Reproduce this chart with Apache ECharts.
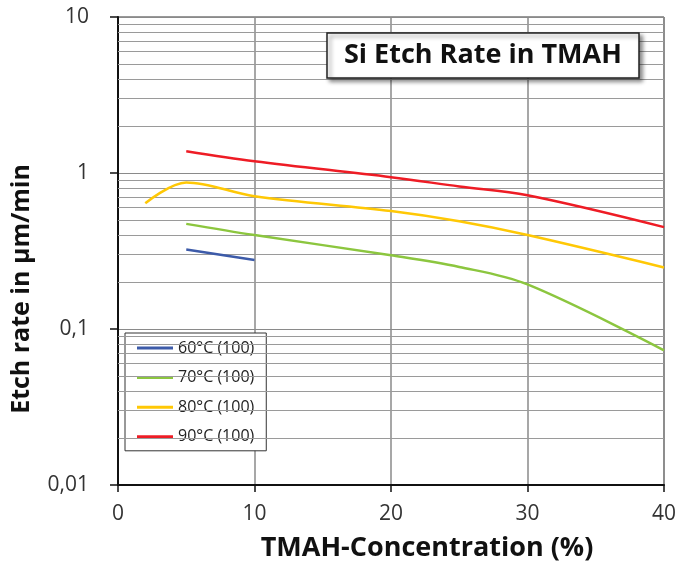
<!DOCTYPE html>
<html><head><meta charset="utf-8">
<script src="https://cdn.jsdelivr.net/npm/echarts@6/dist/echarts.min.js"></script>
<style>html,body{margin:0;padding:0;background:#fff}#c{width:679px;height:567px}</style>
</head><body><div id="c"></div>
<script>
var seriesNames = ['60°C (100)', '70°C (100)', '80°C (100)', '90°C (100)'];
var colors = ['#3d5ba9', '#8cc63f', '#ffc805', '#ee1c25'];
var conc60 = [5, 10];
var rate60 = [0.323, 0.277];
var conc70 = [5, 10, 20, 25, 30, 40];
var rate70 = [0.472, 0.40, 0.297, 0.25, 0.193, 0.073];
var conc80 = [2, 5, 10, 20, 25, 30, 40];
var rate80 = [0.64, 0.87, 0.71, 0.57, 0.49, 0.40, 0.248];
var conc90 = [5, 10, 20, 25, 30, 40];
var rate90 = [1.38, 1.19, 0.94, 0.82, 0.72, 0.45];
var yTickLabels = {'0.01': '0,01', '0.1': '0,1', '1': '1', '10': '10'};
var xTicks = [0, 10, 20, 30, 40];
var decades = [0.01, 0.1, 1];

var minorLines = [];
decades.forEach(function (d) {
  for (var m = 2; m <= 9; m++) minorLines.push({ yAxis: +(d * m).toPrecision(3) });
});

function pairs(xs, ys) { return xs.map(function (x, i) { return [x, ys[i]]; }); }
var allConc = [conc60, conc70, conc80, conc90];
var allRate = [rate60, rate70, rate80, rate90];
var font = '"Open Sans", "DejaVu Sans", sans-serif';

var series = seriesNames.map(function (n, i) {
  return {
    name: n, type: 'line', data: pairs(allConc[i], allRate[i]),
    smooth: 0.35, symbol: 'none', z: 5,
    lineStyle: { color: colors[i], width: 2.5 },
    itemStyle: { color: colors[i] }
  };
});
series.unshift({
  name: 'grid', type: 'line', data: [], silent: true, z: 1,
  markLine: {
    silent: true, symbol: 'none', label: { show: false },
    lineStyle: { color: '#9a9a9a', width: 1, type: 'solid' },
    data: minorLines, animation: false
  }
});

var chart = echarts.init(document.getElementById('c'));
chart.setOption({
  animation: false,
  backgroundColor: '#fff',
  title: {
    text: 'Si Etch Rate in TMAH', left: 327, top: 33,
    padding: [9, 17, 9, 17],
    backgroundColor: '#fff', borderColor: '#222', borderWidth: 1.5,
    shadowBlur: 4, shadowColor: 'rgba(0,0,0,0.45)', shadowOffsetX: 3, shadowOffsetY: 3,
    textStyle: { fontFamily: font, fontWeight: 'bold', fontSize: 27, lineHeight: 27, color: '#111' }
  },
  legend: {
    data: seriesNames.map(function (n) { return { name: n, icon: 'rect' }; }),
    orient: 'vertical', left: 125, top: 333,
    padding: [7, 12, 6, 12], itemWidth: 36, itemHeight: 3, itemGap: 13.6,
    backgroundColor: '#fff', borderColor: '#333', borderWidth: 1,
    textStyle: { fontFamily: font, fontSize: 16, lineHeight: 16, color: '#222' }
  },
  grid: { left: 118, right: 15, top: 17, bottom: 80, show: true, borderColor: '#333', borderWidth: 1, backgroundColor: 'transparent' },
  xAxis: {
    type: 'value', min: 0, max: 40, interval: 10,
    name: 'TMAH-Concentration (%)', nameLocation: 'middle', nameGap: 50,
    nameTextStyle: { fontFamily: font, fontWeight: 'bold', fontSize: 27, color: '#111', padding: [0, 0, 0, 72] },
    axisLine: { lineStyle: { color: '#111', width: 2 } },
    axisTick: { show: true, length: 7, lineStyle: { color: '#111', width: 1.5 } },
    axisLabel: { fontFamily: font, fontSize: 21, color: '#333', margin: 19 },
    splitLine: { show: true, lineStyle: { color: '#8a8a8a', width: 1.5 } }
  },
  yAxis: {
    type: 'log', logBase: 10, min: 0.01, max: 10,
    name: 'Etch rate in µm/min', nameLocation: 'middle', nameGap: 84, nameRotate: 90,
    nameTextStyle: { fontFamily: font, fontWeight: 'bold', fontSize: 25, color: '#111', padding: [0, 76, 0, 0] },
    axisLine: { lineStyle: { color: '#111', width: 2 } },
    axisTick: { show: true, length: 8, lineStyle: { color: '#111', width: 1.5 } },
    axisLabel: {
      fontFamily: font, fontSize: 21, color: '#333', margin: 29,
      formatter: function (v) { var k = String(+v.toPrecision(3)); return yTickLabels[k] !== undefined ? yTickLabels[k] : k; }
    },
    splitLine: { show: true, lineStyle: { color: '#8a8a8a', width: 1.2 } }
  },
  series: series
});
</script>
</body></html>
